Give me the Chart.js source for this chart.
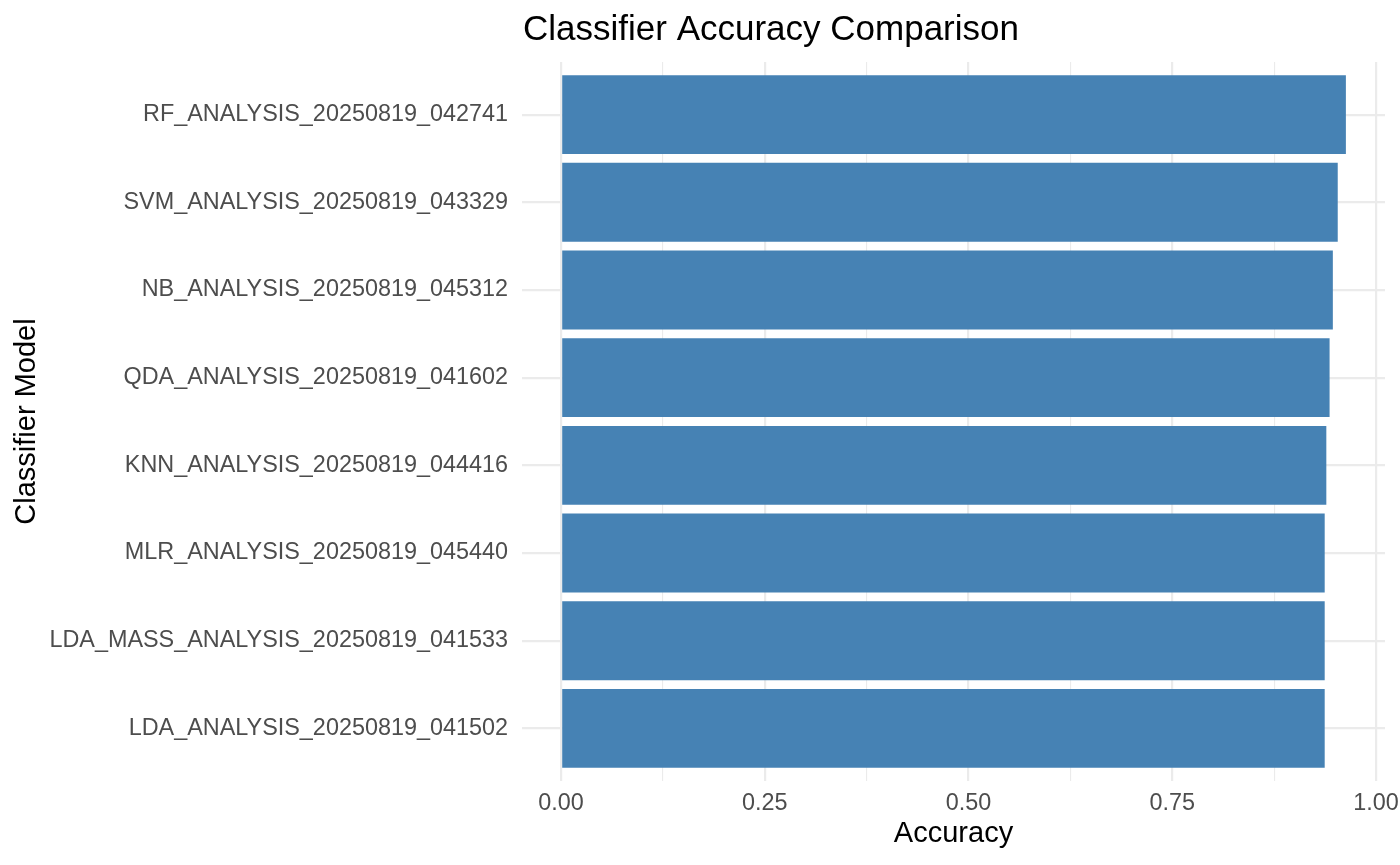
<!DOCTYPE html>
<html>
<head>
<meta charset="utf-8">
<script src="https://cdn.jsdelivr.net/npm/chart.js@4.4.1/dist/chart.umd.min.js"></script>
<style>
  html, body { margin: 0; padding: 0; background: #fff; overflow: hidden; }
  #wrap { width: 1400px; height: 865px; }
</style>
</head>
<body>
<div id="wrap"><canvas id="chart"></canvas></div>
<script>
// top to bottom, as in the picture
const models = [
  'RF_ANALYSIS_20250819_042741',
  'SVM_ANALYSIS_20250819_043329',
  'NB_ANALYSIS_20250819_045312',
  'QDA_ANALYSIS_20250819_041602',
  'KNN_ANALYSIS_20250819_044416',
  'MLR_ANALYSIS_20250819_045440',
  'LDA_MASS_ANALYSIS_20250819_041533',
  'LDA_ANALYSIS_20250819_041502'
];
const accuracy = [0.963, 0.953, 0.947, 0.943, 0.939, 0.937, 0.937, 0.937];
const xTicks = [0, 0.125, 0.25, 0.375, 0.5, 0.625, 0.75, 0.875, 1];
const xLabels = ['0.00', '', '0.25', '', '0.50', '', '0.75', '', '1.00'];

const FONT = "'Liberation Sans', Arial, sans-serif";
const isMajor = v => Math.abs(v * 4 - Math.round(v * 4)) < 1e-6;

const titlePlugin = {
  id: 'leftTitle',
  afterDraw(chart) {
    const ctx = chart.ctx;
    ctx.save();
    ctx.font = '35px ' + FONT;
    ctx.fillStyle = '#000';
    ctx.textAlign = 'left';
    ctx.textBaseline = 'alphabetic';
    ctx.fillText('Classifier Accuracy Comparison', chart.chartArea.left + 1, 40);
    ctx.restore();
  }
};

new Chart(document.getElementById('chart'), {
  type: 'bar',
  data: {
    datasets: [{
      data: accuracy.map((v, i) => ({ x: v, y: i + 1 })),
      backgroundColor: '#4682B4',
      borderWidth: 0,
      barPercentage: 0.9,
      categoryPercentage: 1.0
    }]
  },
  options: {
    indexAxis: 'y',
    responsive: true,
    maintainAspectRatio: false,
    animation: false,
    layout: { padding: { top: 62, right: 15, left: 0, bottom: 0 } },
    plugins: { legend: { display: false }, tooltip: { enabled: false } },
    scales: {
      x: {
        type: 'linear',
        min: -0.048,
        max: 1.011,
        afterBuildTicks: s => { s.ticks = xTicks.map(v => ({ value: v })); },
        afterFit: s => { s.height = 84; s.paddingLeft = 0; s.paddingRight = 0; },
        grid: {
          color: '#EBEBEB',
          lineWidth: c => (c.tick && isMajor(c.tick.value)) ? 2.2 : 1.1,
          drawTicks: false
        },
        border: { display: false },
        ticks: {
          autoSkip: false,
          maxRotation: 0,
          padding: 9,
          color: '#4D4D4D',
          font: { family: FONT, size: 23.4 },
          callback: (v, i) => xLabels[i]
        },
        title: {
          display: true,
          text: 'Accuracy',
          color: '#000',
          font: { family: FONT, size: 29 },
          padding: { top: 0, bottom: 14 }
        }
      },
      y: {
        type: 'linear',
        reverse: true,
        offset: false,
        min: 0.4,
        max: 8.6,
        afterBuildTicks: s => { s.ticks = models.map((m, i) => ({ value: i + 1 })); },
        afterFit: s => { s.width = 522; s.paddingTop = 0; s.paddingBottom = 0; },
        grid: { color: '#EBEBEB', lineWidth: 2.2, drawTicks: false, offset: false },
        border: { display: false },
        ticks: {
          autoSkip: false,
          padding: 14,
          color: '#4D4D4D',
          font: { family: FONT, size: 23.4 },
          callback: (v, i) => models[i]
        },
        title: {
          display: true,
          text: 'Classifier Model',
          color: '#000',
          font: { family: FONT, size: 29 },
          padding: { top: 10, bottom: 0 }
        }
      }
    }
  },
  plugins: [titlePlugin]
});
</script>
</body>
</html>
